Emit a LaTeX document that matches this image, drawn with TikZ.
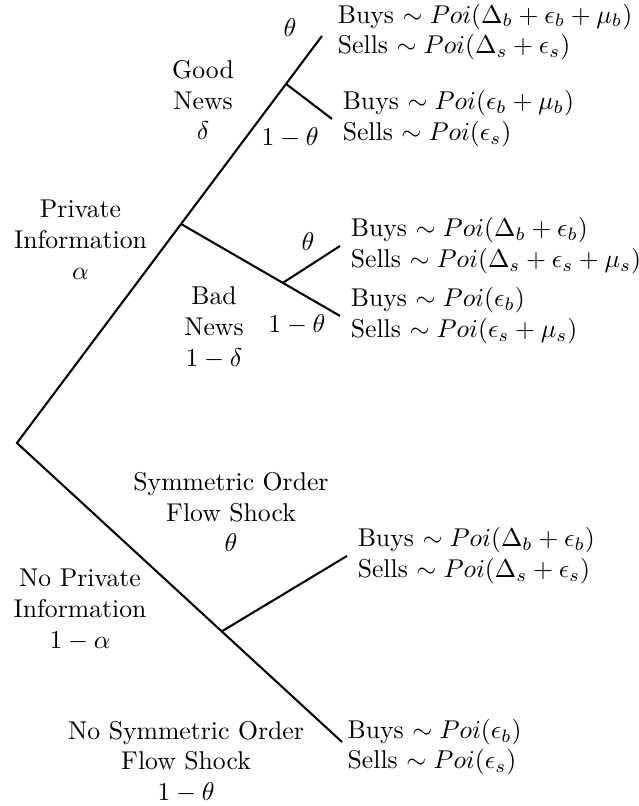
\documentclass[tikz,border=0pt]{standalone}
\usepackage{amsmath,amssymb}
\usepackage{tikz}
\usetikzlibrary{positioning, calc}
\tikzset{
    branch/.style={thick, black},
    leaf/.style={align=left, inner sep=2pt},
    prob/.style={align=center, inner sep=1pt}
}

\begin{document}
\begin{tikzpicture}
    \useasboundingbox (0,0) rectangle (8.725,11.022);
    \coordinate (root) at (0.232,4.964);
    \coordinate (top) at (4.403,10.530);
    \coordinate (nend) at (4.677,0.875);
    \coordinate (pfork) at ($(root)!0.538!(top)$);
    \coordinate (gfork) at ($(pfork)!0.745!(top)$);
    \coordinate (gend) at (4.540,9.395);
    \coordinate (bend) at (4.650,6.701);
    \coordinate (bfork) at ($(pfork)!0.64!(bend)$);
    \coordinate (bup) at (4.650,7.658);
    \coordinate (nfork) at ($(root)!0.63!(nend)$);
    \coordinate (nup) at (4.745,3.419);
    \draw[branch] (nend) -- (root) -- (top);
    \draw[branch] (gfork) -- (gend);
    \draw[branch] (pfork) -- (bend);
    \draw[branch] (bfork) -- (bup);
    \draw[branch] (nfork) -- (nup);
    \node[leaf, right=4pt of top, yshift=1.5pt] (ggood) {Buys $\sim Poi(\Delta_b + \epsilon_b + \mu_b)$\\ Sells $\sim Poi(\Delta_s + \epsilon_s)$};
    \node[leaf, right=2pt of gend] (gnone) {Buys $\sim Poi(\epsilon_b + \mu_b)$\\ Sells $\sim Poi(\epsilon_s)$};
    \node[leaf, right=2pt of bup] (bgood) {Buys $\sim Poi(\Delta_b + \epsilon_b)$\\ Sells $\sim Poi(\Delta_s + \epsilon_s + \mu_s)$};
    \node[leaf, right=2pt of bend] (bnone) {Buys $\sim Poi(\epsilon_b)$\\ Sells $\sim Poi(\epsilon_s + \mu_s)$};
    \node[leaf, right=2pt of nup] (nshock) {Buys $\sim Poi(\Delta_b + \epsilon_b)$\\ Sells $\sim Poi(\Delta_s + \epsilon_s)$};
    \node[leaf, right=0pt of nend, yshift=-2pt] (nnone) {Buys $\sim Poi(\epsilon_b)$\\ Sells $\sim Poi(\epsilon_s)$};
    \node[prob] (gth) at (3.966,10.639) {$\theta$};
    \node[prob] (gnth) at (3.966,9.135) {$1-\theta$};
    \node[prob] (goodnews) at (2.776,9.655) {Good\\ News\\ $\delta$};
    \node[prob] (privinfo) at (1.101,7.740) {Private\\ Information\\ $\alpha$};
    \node[prob] (bth) at (4.212,7.713) {$\theta$};
    \node[prob] (bnth) at (4.061,6.578) {$1-\theta$};
    \node[prob] (badnews) at (2.926,6.537) {Bad\\ News\\ $1-\delta$};
    \node[prob] (symshock) at (3.159,4.020) {Symmetric Order\\ Flow Shock\\ $\theta$};
    \node[prob] (noinfo) at (1.094,2.680) {No Private\\ Information\\ $1-\alpha$};
    \node[prob] (noshock) at (2.544,0.602) {No Symmetric Order\\ Flow Shock\\ $1-\theta$};
\end{tikzpicture}
\end{document}
